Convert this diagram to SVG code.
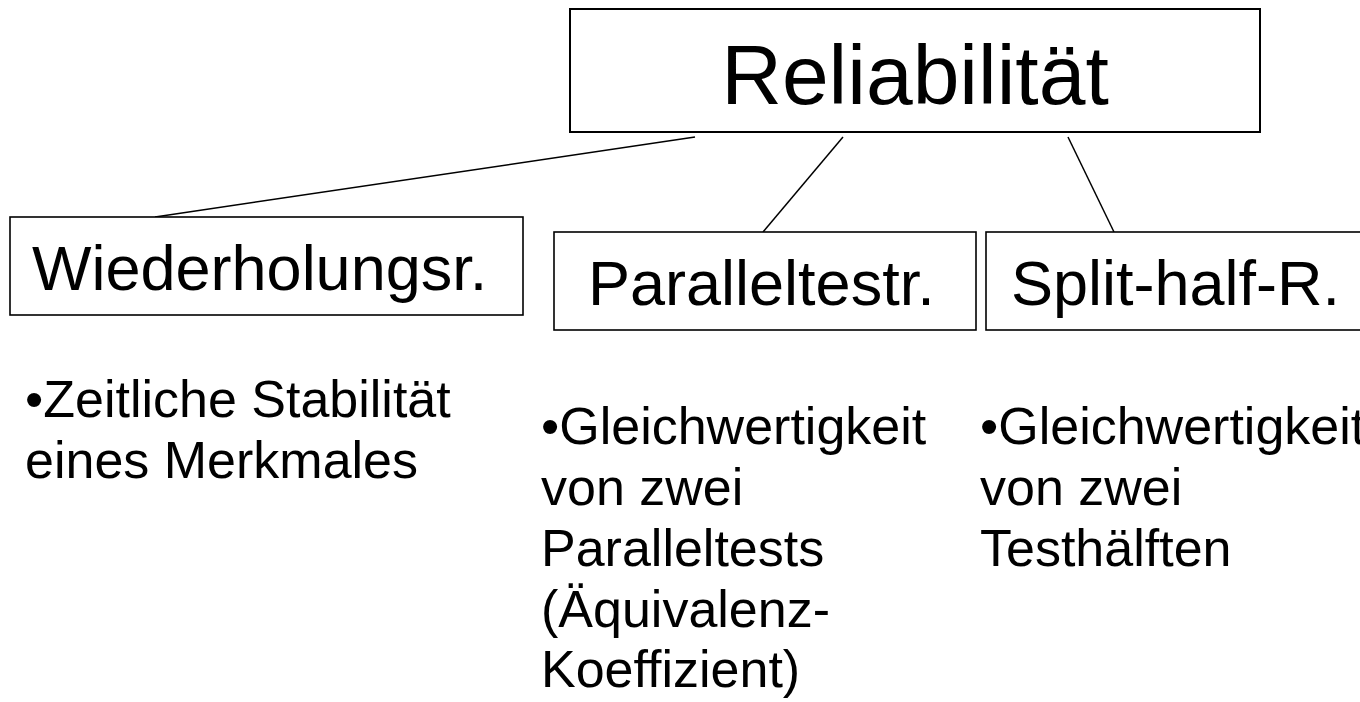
<svg xmlns="http://www.w3.org/2000/svg" width="1360" height="702" viewBox="0 0 1360 702">
<style>
.box{fill:#fff;stroke:#000;stroke-width:1.6}
.conn line{stroke:#000;stroke-width:1.5}
.big{font-family:"Liberation Sans",Arial,sans-serif;fill:#000}
.t{font-family:"Liberation Sans",Arial,sans-serif;font-size:52px;fill:#000}
</style>
<rect width="1360" height="702" fill="#fff"/>
<g id="connectors" class="conn">
<line x1="695" y1="137" x2="155" y2="217"/>
<line x1="843" y1="137" x2="763" y2="232"/>
<line x1="1068" y1="137" x2="1114" y2="232"/>
</g>
<g id="reliabilitaet">
<rect class="box" x="570" y="9" width="690" height="123" style="stroke-width:2"/>
<text class="big" x="915" y="104" font-size="84" text-anchor="middle">Reliabilität</text>
</g>
<g id="wiederholung">
<rect class="box" x="10" y="217" width="513" height="98"/>
<text class="big" x="32" y="290" font-size="63">Wiederholungsr.</text>
</g>
<g id="paralleltest">
<rect class="box" x="554" y="232" width="422" height="98"/>
<text class="big" x="588" y="305" font-size="63">Paralleltestr.</text>
</g>
<g id="splithalf">
<rect class="box" x="986" y="232" width="400" height="98"/>
<text class="big" x="1011" y="305" font-size="63">Split-half-R.</text>
</g>
<g id="text-wiederholung">
<text class="t" x="25" y="417">•Zeitliche Stabilität</text>
<text class="t" x="25" y="478">eines Merkmales</text>
</g>
<g id="text-paralleltest">
<text class="t" x="541" y="444">•Gleichwertigkeit</text>
<text class="t" x="541" y="505">von zwei</text>
<text class="t" x="541" y="566">Paralleltests</text>
<text class="t" x="541" y="627">(Äquivalenz-</text>
<text class="t" x="541" y="687">Koeffizient)</text>
</g>
<g id="text-splithalf">
<text class="t" x="980" y="444">•Gleichwertigkeit</text>
<text class="t" x="980" y="505">von zwei</text>
<text class="t" x="980" y="566">Testhälften</text>
</g>
</svg>
